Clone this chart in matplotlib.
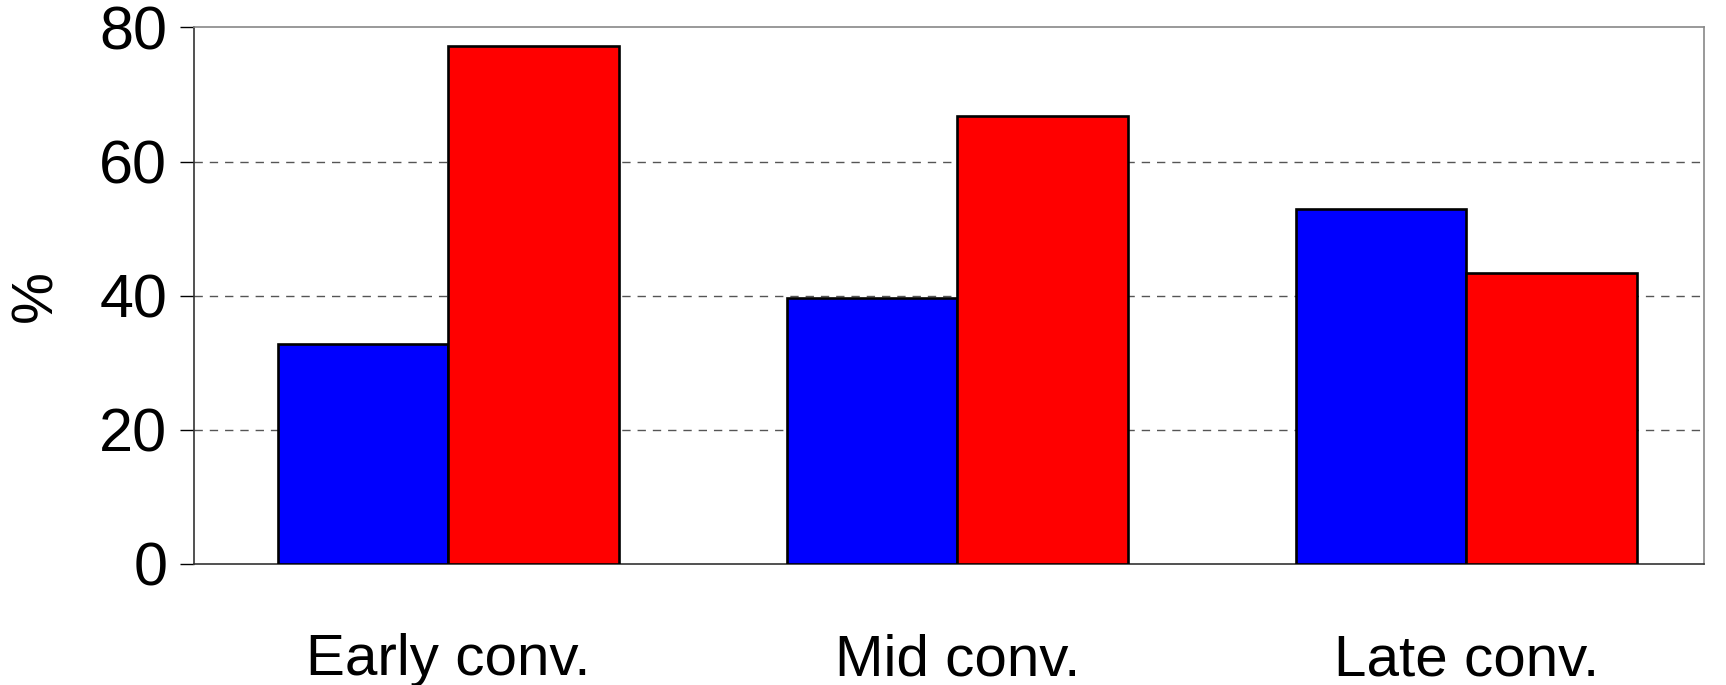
import numpy as np
import matplotlib.pyplot as plt

plt.rcParams['font.family'] = ['Liberation Sans', 'DejaVu Sans']

categories = ["Early conv.", "Mid conv.", "Late conv."]
blue_vals = [32.7, 39.6, 52.9]
red_vals = [77.3, 66.8, 43.3]
y_ticks = [0, 20, 40, 60, 80]

fig = plt.figure(figsize=(17.26, 6.85), dpi=100)
ax = fig.add_axes([0.1122, 0.1772, 0.8751, 0.7827])

x = np.arange(len(categories))
w = 0.335
ax.bar(x - w / 2, blue_vals, w, color="#0000ff", edgecolor="black", linewidth=1.9, zorder=3)
ax.bar(x + w / 2, red_vals, w, color="#ff0000", edgecolor="black", linewidth=1.9, zorder=3)

ax.set_xlim(-0.5, 2.467)
ax.set_ylim(0, 80)
ax.set_yticks(y_ticks)
ax.set_xticks(x)
ax.set_xticklabels(categories)

for v in [20, 40, 60]:
    ax.axhline(v, color="#555555", linewidth=1.0, linestyle=(0, (6, 5)), zorder=1)

ax.tick_params(axis="y", labelsize=44, length=10, width=1, pad=9, color="black")
ax.tick_params(axis="x", labelsize=42, length=0, pad=50)
ax.set_ylabel("%", fontsize=42, labelpad=26)

ax.spines["left"].set_color("#333333")
ax.spines["bottom"].set_color("#333333")
ax.spines["top"].set_color("#888888")
ax.spines["right"].set_color("#888888")
for s in ax.spines.values():
    s.set_linewidth(1.2)

fig.savefig("out.png", dpi=100)
